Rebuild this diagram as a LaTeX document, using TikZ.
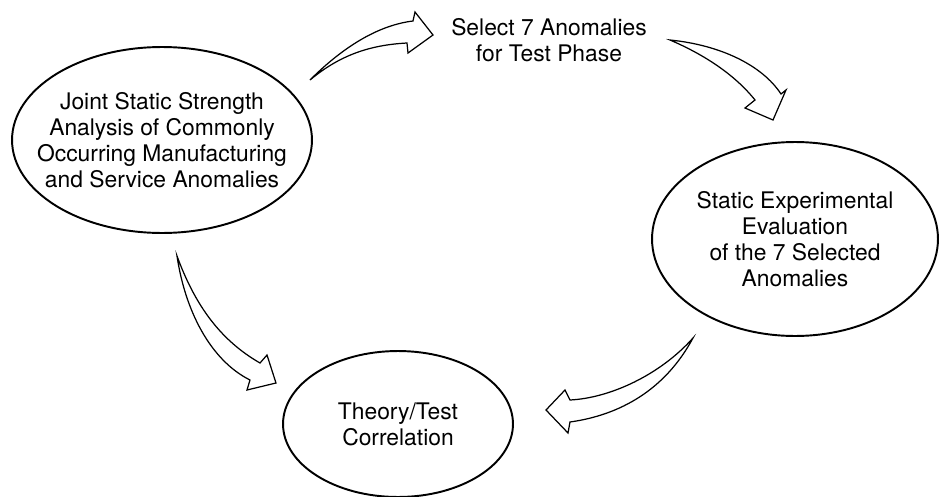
\documentclass[tikz,border=0pt]{standalone}
\usepackage{fontspec}
\setmainfont{TeX Gyre Heros}
\usetikzlibrary{shapes.geometric}
\tikzset{
  bubble/.style={ellipse, draw=black, line width=1.1pt, inner xsep=-1cm,
                 inner ysep=-0.5cm, align=center,
                 font=\fontsize{13}{14.8}\selectfont},
  lbl/.style={align=center, inner sep=0pt, font=\fontsize{13}{14.8}\selectfont},
  fatarr/.style={draw=black, fill=white, line width=0.7pt, line join=miter},
}

\begin{document}
\begin{tikzpicture}[x=0.02cm, y=-0.02cm]
\useasboundingbox (0,0) rectangle (940,497);

\node[bubble, minimum width=6cm, minimum height=3.72cm] (joint) at (162,140)
  {Joint Static Strength\\Analysis of Commonly\\Occurring Manufacturing\\and Service Anomalies};
\node[lbl] (select) at (549,40) {Select 7 Anomalies\\for Test Phase};
\node[bubble, minimum width=5.72cm, minimum height=3.88cm] (exper) at (795,239)
  {Static Experimental\\Evaluation\\of the 7 Selected\\Anomalies};
\node[bubble, minimum width=4.6cm, minimum height=2.92cm] (corr) at (398,424)
  {Theory/Test\\Correlation};

% hollow curved arrows
\draw[fatarr] (310,80) .. controls (345,45) and (380,25) .. (413,21) -- (415,12)
  -- (433,35) -- (408,53) -- (407,43) .. controls (370,45) and (340,55) .. cycle;
\draw[fatarr] (670,40) .. controls (720,45) and (762,65) .. (781,94) -- (786,90)
  -- (773,120) -- (745,108) -- (755,100) .. controls (735,75) and (705,55) .. cycle;
\draw[fatarr] (693,338) .. controls (660,375) and (610,398) .. (570,400) -- (565,390)
  -- (546,410) -- (568,433) -- (570,422) .. controls (620,415) and (665,390) .. cycle;
\draw[fatarr] (177,256) .. controls (185,310) and (210,360) .. (250,380) -- (247,390)
  -- (276,383) -- (267,355) -- (260,363) .. controls (220,340) and (195,305) .. cycle;
\end{tikzpicture}
\end{document}
